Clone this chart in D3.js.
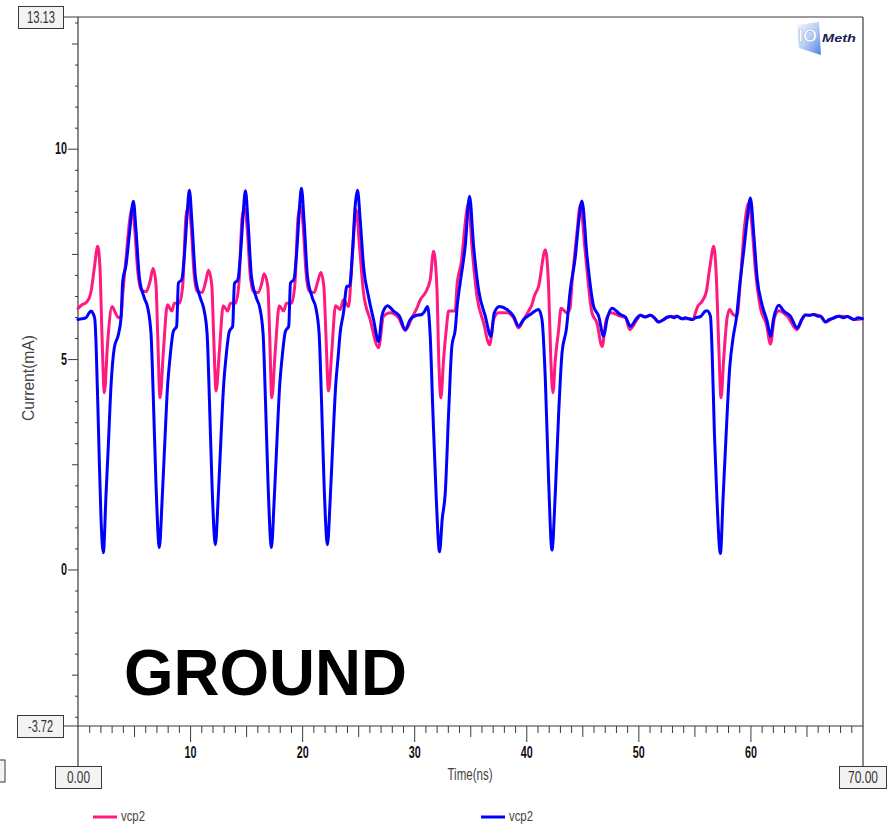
<!DOCTYPE html>
<html><head><meta charset="utf-8">
<script src="https://cdn.jsdelivr.net/npm/d3@7"></script>
<style>body{margin:0;background:#fff}svg{display:block}</style>
</head><body>
<svg id="c" width="888" height="826"></svg>
<script>
// ---------- data ----------
const seriesNames = ["vcp2", "vcp2"];
const seriesColors = ["#ff1a80", "#0000ff"];
const xDomain = [0, 70];
const yDomain = [-3.72, 13.13];
const xMajorTicks = [10, 20, 30, 40, 50, 60];
const xMidTicks = [5, 15, 25, 35, 45, 55, 65];
const yMajorTicks = [0, 5, 10];
const yMidTicks = [-2.5, 2.5, 7.5, 12.5];
const xTitle = "Time(ns)";
const yTitle = "Current(mA)";
const boxLabels = ["13.13", "-3.72", "0.00", "70.00"];
const annotation = "GROUND";

// pink trace [time ns, current mA]
const pinkTrace = [
[0.00,6.20],[0.30,6.28],[0.70,6.34],[1.00,6.45],[1.16,6.60],[1.46,7.17],[1.76,7.68],[1.96,7.17],[2.14,5.58],[2.35,4.20],[2.65,5.42],[3.04,6.25],[3.33,6.10],[3.63,5.98],[3.84,6.02],[3.99,6.53],[4.29,7.41],[4.64,8.36],[4.82,8.59],[5.03,8.19],[5.33,7.09],[5.63,6.65],[6.07,6.60],[6.43,6.85],[6.70,7.15],[6.96,6.77],[7.11,5.58],[7.32,4.08],[7.62,5.19],[7.98,6.29],[8.37,6.14],[8.60,6.33],[9.05,6.33],[9.35,6.77],[9.64,8.40],[9.88,8.63],
[10.10,8.15],[10.35,7.05],[10.63,6.62],[11.07,6.58],[11.40,6.85],[11.64,7.11],[11.94,6.75],[12.10,5.60],[12.32,4.24],[12.62,5.20],[12.96,6.27],[13.35,6.14],[13.60,6.33],[14.05,6.33],[14.35,6.77],[14.64,8.35],[14.86,8.59],
[15.10,8.10],[15.35,7.05],[15.63,6.62],[16.07,6.58],[16.40,6.80],[16.60,7.03],[16.94,6.72],[17.10,5.60],[17.29,4.08],[17.60,5.19],[17.96,6.27],[18.35,6.14],[18.60,6.33],[19.05,6.33],[19.35,6.77],[19.64,8.38],[19.88,8.63],
[20.10,8.12],[20.35,7.05],[20.63,6.62],[21.07,6.58],[21.40,6.85],[21.67,7.06],[21.94,6.72],[22.12,5.60],[22.35,4.24],[22.65,5.20],[22.98,6.27],[23.39,6.18],[23.69,6.41],[24.14,6.25],[24.44,7.28],[24.82,8.55],
[25.12,7.68],[25.48,6.57],[26.07,5.94],[26.82,5.27],[27.26,6.02],[27.86,6.10],[28.60,5.98],[29.20,5.68],[29.79,5.98],[30.30,6.25],[30.54,6.41],[30.98,6.57],[31.43,6.89],[31.73,7.56],[32.02,6.73],[32.20,4.91],[32.38,4.08],[32.62,4.99],[32.86,5.70],[33.07,6.14],[33.66,6.14],[33.81,6.73],[34.20,7.30],[34.70,8.55],[34.85,8.71],
[35.15,7.68],[35.60,6.49],[36.19,5.86],[36.73,5.34],[37.08,5.94],[37.53,6.10],[38.27,6.10],[38.87,5.98],[39.31,5.74],[39.76,5.94],[40.20,6.14],[40.50,6.29],[40.71,6.49],[41.10,6.73],[41.70,7.60],[41.99,6.73],[42.20,4.91],[42.38,4.20],[42.59,4.99],[42.89,5.70],[43.10,6.21],[43.63,6.10],[43.90,6.20],[44.08,6.81],[44.52,8.00],[44.82,8.67],
[45.27,7.52],[45.86,6.10],[46.30,5.86],[46.76,5.30],[47.14,5.94],[47.56,6.10],[48.39,6.02],[48.85,5.98],[49.23,5.70],[49.88,5.94],[50.18,6.04],[50.60,6.00],[51.07,6.04],[51.43,5.98],[51.81,5.88],[52.26,5.94],[52.86,6.01],[53.45,6.02],[53.90,5.96],[54.49,5.96],[54.90,5.94],[55.09,6.10],[55.30,6.25],[55.68,6.37],[56.07,6.61],[56.37,7.17],[56.73,7.68],[56.96,6.93],[57.17,5.34],[57.38,4.08],[57.62,5.03],[57.92,5.98],[58.15,6.18],[58.45,6.06],[58.80,6.02],[59.10,6.85],[59.46,8.12],[59.85,8.71],
[60.15,8.12],[60.45,7.09],[60.90,6.21],[61.43,5.82],[61.79,5.36],[62.14,5.98],[62.53,6.15],[63.28,6.02],[64.17,5.70],[64.60,5.94],[64.90,6.05],[65.30,6.04],[65.65,6.06],[66.25,6.02],[66.70,5.88],[67.29,5.96],[67.89,6.02],[68.63,6.01],[69.23,5.94],[70.00,5.96]
];

// blue trace [time ns, current mA]
const blueTrace = [
[0.00,5.94],[0.35,5.96],[0.70,5.98],[1.00,6.10],[1.16,6.14],[1.35,6.08],[1.50,5.95],[1.62,5.30],[1.84,3.20],[2.05,1.23],[2.26,0.40],[2.50,1.78],[2.71,2.97],[2.95,4.39],[3.24,5.27],[3.60,5.58],[3.84,5.98],[3.99,6.85],[4.29,7.24],[4.58,7.96],[4.94,8.75],[5.18,8.04],[5.48,6.93],[5.92,6.45],[6.22,6.22],[6.52,5.58],[6.73,4.00],[6.96,2.02],[7.26,0.52],[7.50,1.62],[7.71,2.81],[8.00,4.39],[8.21,5.03],[8.51,5.66],[8.80,5.78],[8.96,6.81],[9.26,6.89],[9.55,7.68],[9.75,8.50],[9.94,9.01],
[10.18,8.20],[10.48,6.95],[10.92,6.45],[11.22,6.20],[11.52,5.60],[11.73,4.00],[11.96,2.00],[12.26,0.59],[12.50,1.65],[12.71,2.85],[13.00,4.40],[13.21,5.05],[13.51,5.66],[13.80,5.78],[13.96,6.80],[14.26,6.88],[14.55,7.68],[14.75,8.50],[14.94,9.00],
[15.18,8.22],[15.48,6.95],[15.92,6.45],[16.22,6.22],[16.52,5.58],[16.73,4.00],[16.96,2.02],[17.26,0.52],[17.50,1.62],[17.71,2.81],[18.00,4.39],[18.21,5.03],[18.51,5.66],[18.80,5.78],[18.96,6.81],[19.26,6.89],[19.55,7.68],[19.75,8.55],[19.94,9.06],
[20.18,8.25],[20.48,6.95],[20.92,6.45],[21.22,6.22],[21.52,5.58],[21.73,4.00],[21.96,2.00],[22.26,0.59],[22.50,1.65],[22.71,2.85],[23.00,4.40],[23.21,5.05],[23.39,5.62],[23.69,6.10],[23.99,6.73],[24.23,6.73],[24.52,7.68],[24.73,8.63],[24.94,9.01],
[25.18,8.31],[25.48,7.20],[25.92,6.49],[26.37,5.94],[26.82,5.42],[27.11,6.02],[27.40,6.22],[27.62,6.27],[28.15,6.14],[28.69,6.02],[29.20,5.70],[29.64,5.94],[30.09,6.03],[30.68,6.06],[30.90,6.12],[31.19,6.25],[31.43,5.54],[31.67,3.72],[31.96,1.74],[32.26,0.42],[32.50,1.20],[32.77,1.82],[33.07,3.72],[33.36,5.30],[33.66,5.70],[33.85,6.30],[34.10,6.81],[34.55,7.68],[34.94,8.87],
[35.30,7.68],[35.74,6.65],[36.34,6.02],[36.85,5.54],[37.14,6.10],[37.62,6.25],[38.27,6.18],[38.87,6.02],[39.31,5.78],[39.76,5.94],[40.36,6.06],[41.10,6.18],[41.40,5.94],[41.70,4.51],[41.99,2.14],[42.29,0.46],[42.59,1.82],[42.89,3.72],[43.19,5.15],[43.57,5.70],[43.93,6.65],[44.38,7.44],[44.67,8.24],[44.97,8.76],
[45.42,7.44],[46.01,6.25],[46.46,6.02],[46.90,5.54],[47.20,5.94],[47.65,6.21],[48.39,6.06],[48.85,6.00],[49.29,5.78],[49.88,5.98],[50.18,6.04],[50.60,6.00],[51.07,6.04],[51.43,5.98],[51.81,5.88],[52.26,5.94],[52.60,6.00],[52.86,6.01],[53.20,5.98],[53.45,6.02],[53.90,5.96],[54.20,5.98],[54.49,5.96],[54.80,5.94],[55.09,5.98],[55.54,6.01],[55.98,6.14],[56.13,6.15],[56.43,6.02],
[56.58,5.19],[56.79,3.20],[57.02,1.62],[57.32,0.38],[57.56,1.70],[57.83,3.20],[58.15,4.79],[58.45,5.50],[58.75,5.98],[59.05,6.77],[59.40,7.56],[59.76,8.43],[60.00,8.83],
[60.30,7.96],[60.60,6.93],[61.04,6.29],[61.49,5.90],[61.79,5.54],[62.08,5.98],[62.53,6.28],[62.98,6.14],[63.57,6.02],[64.17,5.74],[64.60,5.95],[64.90,6.05],[65.30,6.04],[65.65,6.06],[66.00,6.02],[66.25,6.02],[66.70,5.88],[67.00,5.94],[67.29,5.96],[67.60,6.00],[67.89,6.02],[68.30,5.98],[68.63,6.01],[69.00,5.97],[69.23,5.94],[69.60,5.98],[70.00,5.96]
];

// ---------- drawing ----------
const svg = d3.select("#c");
const FONT = "'Liberation Sans', Arial, sans-serif";
const AX = "#3a3a3a";
svg.append("rect").attr("width", 888).attr("height", 826).attr("fill", "#fff");

const x = d3.scaleLinear().domain(xDomain).range([78, 862.5]);
const y = d3.scaleLinear().domain(yDomain).range([726, 17]);

const yMinor = d3.range(-3.5, 13.01, 0.5).filter(v => !yMajorTicks.includes(v) && !yMidTicks.includes(v));
const xMinor = d3.range(1, 70, 1).filter(v => !xMajorTicks.includes(v) && !xMidTicks.includes(v));

function tickGroup(axis, tr) {
  const g = svg.append("g").attr("transform", tr).call(axis);
  g.select(".domain").remove();
  g.selectAll(".tick line").attr("stroke", AX);
  return g;
}
tickGroup(d3.axisLeft(y).tickValues(yMinor).tickSize(3).tickFormat(""), "translate(78,0)");
tickGroup(d3.axisLeft(y).tickValues(yMidTicks).tickSize(6).tickFormat(""), "translate(78,0)");
const gy = tickGroup(d3.axisLeft(y).tickValues(yMajorTicks).tickSize(10).tickPadding(1).tickFormat(d3.format("d")), "translate(78,0)");
gy.selectAll("text").attr("font-family", FONT).attr("font-weight", "bold").attr("font-size", 16)
  .attr("fill", "#111").attr("textLength", d => String(d).length * 6).attr("lengthAdjust", "spacingAndGlyphs");

tickGroup(d3.axisBottom(x).tickValues(xMinor).tickSize(7).tickFormat(""), "translate(0,726)");
tickGroup(d3.axisBottom(x).tickValues(xMidTicks).tickSize(11).tickFormat(""), "translate(0,726)");
const gx = tickGroup(d3.axisBottom(x).tickValues(xMajorTicks).tickSize(16).tickPadding(5).tickFormat(d3.format("d")), "translate(0,726)");
gx.selectAll("text").attr("font-family", FONT).attr("font-weight", "bold").attr("font-size", 16)
  .attr("fill", "#111").attr("textLength", 12).attr("lengthAdjust", "spacingAndGlyphs");

// frame / axis lines
const frame = svg.append("g").attr("stroke", AX).attr("stroke-width", 1.2).attr("fill", "none");
frame.append("line").attr("x1", 63).attr("x2", 863).attr("y1", y(yDomain[1])).attr("y2", y(yDomain[1]));
frame.append("line").attr("x1", 863).attr("x2", 863).attr("y1", y(yDomain[1])).attr("y2", 767);
frame.append("line").attr("x1", 78).attr("x2", 78).attr("y1", y(yDomain[1])).attr("y2", 766);
frame.append("line").attr("x1", 63).attr("x2", 863).attr("y1", y(yDomain[0])).attr("y2", y(yDomain[0]));

// value boxes
const boxes = [
  {t: boxLabels[0], x: 18, y: 6, w: 45, h: 22, tw: 28},
  {t: boxLabels[1], x: 17, y: 715, w: 46, h: 22, tw: 25},
  {t: boxLabels[2], x: 55, y: 766, w: 46, h: 22, tw: 23},
  {t: boxLabels[3], x: 839, y: 766, w: 47, h: 22, tw: 30},
];
const bg = svg.append("g");
bg.append("rect").attr("x", -40).attr("y", 760).attr("width", 45).attr("height", 22)
  .attr("fill", "#f3f3f3").attr("stroke", AX);
boxes.forEach(b => {
  bg.append("rect").attr("x", b.x + 0.5).attr("y", b.y + 0.5).attr("width", b.w).attr("height", b.h)
    .attr("fill", "#f3f3f3").attr("stroke", AX);
  bg.append("text").attr("x", b.x + b.w / 2 + 0.5).attr("y", b.y + b.h / 2 + 6).attr("text-anchor", "middle")
    .attr("font-family", FONT).attr("font-size", 16).attr("fill", "#333")
    .attr("textLength", b.tw).attr("lengthAdjust", "spacingAndGlyphs").text(b.t);
});

// axis titles
svg.append("text").attr("x", 470).attr("y", 780).attr("text-anchor", "middle")
  .attr("font-family", FONT).attr("font-size", 17).attr("fill", "#444")
  .attr("textLength", 45).attr("lengthAdjust", "spacingAndGlyphs").text(xTitle);
svg.append("text").attr("transform", "translate(34,378) rotate(-90)").attr("text-anchor", "middle")
  .attr("font-family", FONT).attr("font-size", 16).attr("fill", "#444")
  .attr("textLength", 86).attr("lengthAdjust", "spacingAndGlyphs").text(yTitle);

// traces
const line = d3.line().x(d => x(d[0])).y(d => y(d[1])).curve(d3.curveMonotoneX);
[pinkTrace, blueTrace].forEach((tr, i) => {
  svg.append("path").datum(tr).attr("d", line).attr("fill", "none")
    .attr("stroke", seriesColors[i]).attr("stroke-width", 3)
    .attr("stroke-linejoin", "round").attr("stroke-linecap", "round");
});

// annotation
svg.append("text").attr("x", 124).attr("y", 695).attr("font-family", FONT).attr("font-weight", "bold")
  .attr("font-size", 65).attr("fill", "#000").attr("textLength", 283).attr("lengthAdjust", "spacingAndGlyphs")
  .text(annotation);

// legend
const legendX = [93, 481];
seriesNames.forEach((n, i) => {
  svg.append("line").attr("x1", legendX[i]).attr("x2", legendX[i] + 24).attr("y1", 817).attr("y2", 817)
    .attr("stroke", seriesColors[i]).attr("stroke-width", 3);
  svg.append("text").attr("x", legendX[i] + 28).attr("y", 821).attr("font-family", FONT).attr("font-size", 15)
    .attr("fill", "#444").attr("textLength", 24).attr("lengthAdjust", "spacingAndGlyphs").text(n);
});

// logo
const defs = svg.append("defs");
const grad = defs.append("linearGradient").attr("id", "lg").attr("x1", "0").attr("y1", "0").attr("x2", "1").attr("y2", "1");
grad.append("stop").attr("offset", "0").attr("stop-color", "#f4f7ff");
grad.append("stop").attr("offset", "0.5").attr("stop-color", "#b9cdf5");
grad.append("stop").attr("offset", "1").attr("stop-color", "#4f7fe0");
const logo = svg.append("g").attr("transform", "translate(795,22)");
logo.append("path").attr("d", "M2,3 L24,0 L26,33 L4,26 Z").attr("fill", "url(#lg)");
logo.append("text").attr("x", 3).attr("y", 20).attr("font-family", FONT).attr("font-weight", "bold")
  .attr("font-size", 18).attr("fill", "#ffffff").attr("stroke", "#9db4e8").attr("stroke-width", 0.6).text("IO");
logo.append("text").attr("x", 27).attr("y", 20).attr("font-family", FONT).attr("font-weight", "bold")
  .attr("font-style", "italic").attr("font-size", 11).attr("fill", "#1b1f4f")
  .attr("textLength", 34).attr("lengthAdjust", "spacingAndGlyphs").text("Meth");
</script>
</body></html>
